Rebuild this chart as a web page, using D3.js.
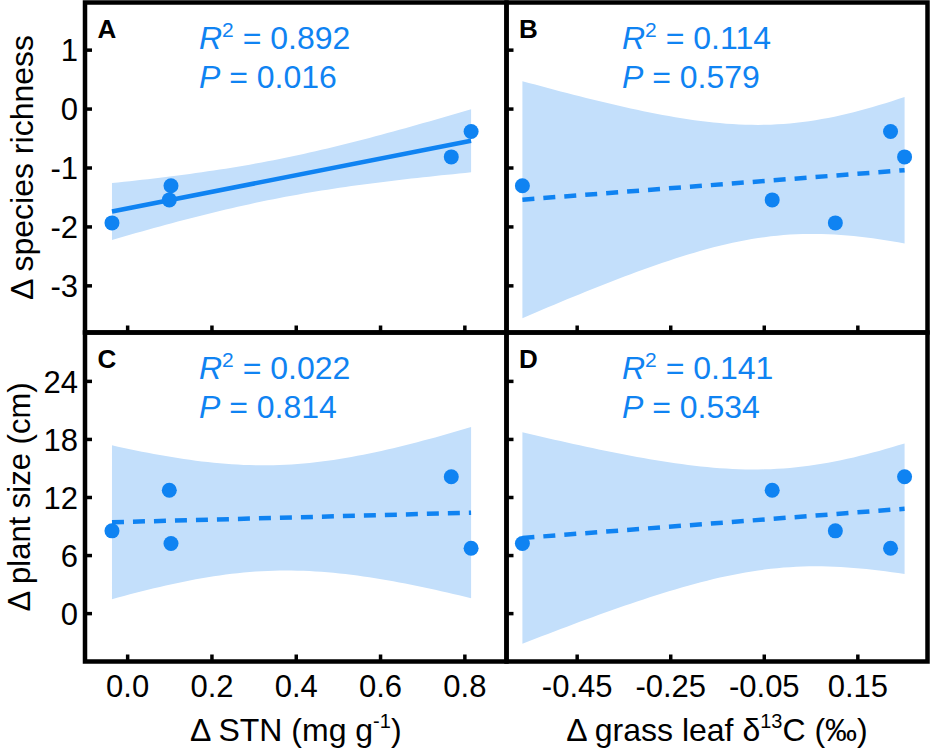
<!DOCTYPE html>
<html>
<head>
<meta charset="utf-8">
<script src="https://cdn.jsdelivr.net/npm/d3@7"></script>
<style>
  html, body { margin: 0; padding: 0; background: #fff; }
  svg { display: block; font-family: "Liberation Sans", Arial, sans-serif; }
</style>
</head>
<body>
<svg id="chart" width="933" height="752"></svg>
<script>
  // values, one entry per site
  const stn = [0.104, 0.100, -0.036, 0.816, 0.769];          // Δ STN (mg g-1)
  const d13c = [-0.566, -0.032, 0.103, 0.221, 0.251];        // Δ grass leaf δ13C (‰)
  const richness = [-1.31, -1.55, -1.94, -0.39, -0.82];      // Δ species richness
  const plantSize = [7.2, 12.7, 8.5, 6.7, 14.1];             // Δ plant size (cm)

  const panelLetters = ["A", "B", "C", "D"];
  const r2Labels = ["0.892", "0.114", "0.022", "0.141"];
  const pLabels = ["0.016", "0.579", "0.814", "0.534"];
  const significant = [true, false, false, false];

  const stnTicks = [0.0, 0.2, 0.4, 0.6, 0.8];
  const d13cTicks = [-0.45, -0.25, -0.05, 0.15];
  const richnessTicks = [-3, -2, -1, 0, 1];
  const sizeTicks = [0, 6, 12, 18, 24];

  const tCrit = 3.182; // t(0.975, df = 3) for the 95% band

  const blue = "#0f83f2";
  const bandColor = "#c3dffb";

  const svg = d3.select("#chart");

  // frame edges
  const frameL = 85, frameMidX = 506.5, frameR = 927.5;
  const frameT = 2.5, frameMidY = 332.5, frameB = 661.5;

  const xStn = d3.scaleLinear().domain([-0.1, 0.9]).range([frameL, frameMidX]);
  const xD13c = d3.scaleLinear().domain([-0.6, 0.3]).range([frameMidX, frameR]);
  const yRich = d3.scaleLinear().domain([-3.8, 1.8]).range([frameMidY, frameT]);
  const ySize = d3.scaleLinear().domain([-5, 29]).range([frameB, frameMidY]);

  const fmtHyphen = f => v => d3.format(f)(v).replace("\u2212", "-");

  // simple least squares fit with confidence band
  function fitLine(xs, ys) {
    const n = xs.length;
    const mx = d3.mean(xs), my = d3.mean(ys);
    let sxx = 0, sxy = 0;
    xs.forEach((x, i) => { sxx += (x - mx) ** 2; sxy += (x - mx) * (ys[i] - my); });
    const slope = sxy / sxx;
    const icpt = my - slope * mx;
    let sse = 0;
    xs.forEach((x, i) => { sse += (ys[i] - (icpt + slope * x)) ** 2; });
    const s = Math.sqrt(sse / (n - 2));
    const predict = x => icpt + slope * x;
    const halfWidth = x => tCrit * s * Math.sqrt(1 / n + (x - mx) ** 2 / sxx);
    return { predict, halfWidth };
  }

  const panels = [
    { xs: stn, ys: richness, x: xStn, y: yRich, xTicks: stnTicks, yTicks: richnessTicks, xFmt: fmtHyphen(".1f"), yFmt: fmtHyphen("d"), showX: false, showY: true },
    { xs: d13c, ys: richness, x: xD13c, y: yRich, xTicks: d13cTicks, yTicks: richnessTicks, xFmt: fmtHyphen(".2f"), yFmt: fmtHyphen("d"), showX: false, showY: false },
    { xs: stn, ys: plantSize, x: xStn, y: ySize, xTicks: stnTicks, yTicks: sizeTicks, xFmt: fmtHyphen(".1f"), yFmt: fmtHyphen("d"), showX: true, showY: true },
    { xs: d13c, ys: plantSize, x: xD13c, y: ySize, xTicks: d13cTicks, yTicks: sizeTicks, xFmt: fmtHyphen(".2f"), yFmt: fmtHyphen("d"), showX: true, showY: false }
  ];

  panels.forEach((p, k) => {
    const g = svg.append("g");
    const [x0, x1] = p.x.range();
    const [y0, y1] = p.y.range(); // y0 bottom, y1 top

    // band + fit
    const fit = fitLine(p.xs, p.ys);
    const xMin = d3.min(p.xs), xMax = d3.max(p.xs);
    const samples = d3.range(0, 61).map(i => xMin + (xMax - xMin) * i / 60);
    const area = d3.area()
      .x(d => p.x(d))
      .y0(d => p.y(fit.predict(d) - fit.halfWidth(d)))
      .y1(d => p.y(fit.predict(d) + fit.halfWidth(d)));
    g.append("path").attr("d", area(samples)).attr("fill", bandColor);

    g.append("line")
      .attr("x1", p.x(xMin)).attr("y1", p.y(fit.predict(xMin)))
      .attr("x2", p.x(xMax)).attr("y2", p.y(fit.predict(xMax)))
      .attr("stroke", blue).attr("stroke-width", 4.5)
      .attr("stroke-dasharray", significant[k] ? null : "12,9");

    g.selectAll("circle").data(p.xs).enter().append("circle")
      .attr("cx", d => p.x(d))
      .attr("cy", (d, i) => p.y(p.ys[i]))
      .attr("r", 7.5)
      .attr("fill", blue);

    // inward ticks
    const axX = g.append("g").attr("transform", `translate(0,${y0})`)
      .call(d3.axisBottom(p.x).tickValues(p.xTicks).tickSizeInner(-7).tickSizeOuter(0).tickFormat(p.showX ? p.xFmt : ""));
    axX.select(".domain").remove();
    axX.selectAll(".tick line").attr("stroke", "#000").attr("stroke-width", 3.5);
    axX.selectAll(".tick text").attr("font-size", 31).attr("fill", "#000").attr("y", 0).attr("dy", 35.5);

    const axY = g.append("g").attr("transform", `translate(${x0},0)`)
      .call(d3.axisLeft(p.y).tickValues(p.yTicks).tickSizeInner(-7).tickSizeOuter(0).tickFormat(p.showY ? p.yFmt : ""));
    axY.select(".domain").remove();
    axY.selectAll(".tick line").attr("stroke", "#000").attr("stroke-width", 3.5);
    axY.selectAll(".tick text").attr("font-size", 31).attr("fill", "#000").attr("x", -7).attr("dy", "0.36em");
    axX.attr("font-family", null).attr("font-size", null);
    axY.attr("font-family", null).attr("font-size", null);

    // frame
    g.append("rect")
      .attr("x", x0).attr("y", y1)
      .attr("width", x1 - x0).attr("height", y0 - y1)
      .attr("fill", "none").attr("stroke", "#000").attr("stroke-width", 4.5);

    // panel letter and stats
    g.append("text")
      .attr("x", x0 + 12.5).attr("y", y1 + 35.5)
      .attr("font-size", 26).attr("font-weight", "bold")
      .text(panelLetters[k]);

    const sx = k % 2 === 0 ? 199 : 622;
    const r2 = g.append("text").attr("x", sx).attr("y", y1 + 46).attr("font-size", 32).attr("fill", blue);
    r2.append("tspan").attr("font-style", "italic").text("R");
    r2.append("tspan").attr("font-size", 21).attr("dy", -12).text("2");
    r2.append("tspan").attr("dy", 12).text(" = " + r2Labels[k]);

    const pt = g.append("text").attr("x", sx).attr("y", y1 + 85).attr("font-size", 32).attr("fill", blue);
    pt.append("tspan").attr("font-style", "italic").text("P");
    pt.append("tspan").text(" = " + pLabels[k]);
  });

  // axis titles
  const t1 = svg.append("text").attr("x", (frameL + frameMidX) / 2).attr("y", 741)
    .attr("text-anchor", "middle").attr("font-size", 32);
  t1.append("tspan").text("\u0394 STN (mg g");
  t1.append("tspan").attr("font-size", 20).attr("dy", -13).text("-1");
  t1.append("tspan").attr("dy", 13).text(")");

  const t2 = svg.append("text").attr("x", (frameMidX + frameR) / 2).attr("y", 741)
    .attr("text-anchor", "middle").attr("font-size", 32);
  t2.append("tspan").text("\u0394 grass leaf \u03b4");
  t2.append("tspan").attr("font-size", 20).attr("dy", -13).text("13");
  t2.append("tspan").attr("dy", 13).text("C (\u2030)");

  svg.append("text")
    .attr("transform", `translate(33,${(frameT + frameMidY) / 2}) rotate(-90)`)
    .attr("text-anchor", "middle").attr("font-size", 32)
    .text("\u0394 species richness");

  svg.append("text")
    .attr("transform", `translate(30,${(frameMidY + frameB) / 2}) rotate(-90)`)
    .attr("text-anchor", "middle").attr("font-size", 31)
    .text("\u0394 plant size (cm)");
</script>
</body>
</html>
